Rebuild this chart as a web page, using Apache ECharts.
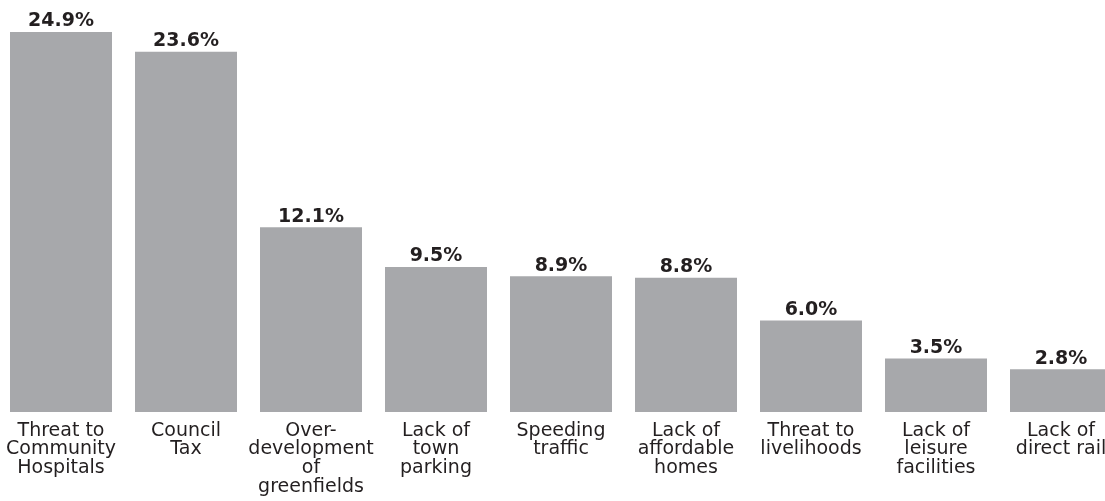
<!DOCTYPE html>
<html>
<head>
<meta charset="utf-8">
<script src="https://cdn.jsdelivr.net/npm/echarts@6/dist/echarts.min.js"></script>
<style>html,body{margin:0;padding:0;background:#fff;}#c{width:1105px;height:501px;}</style>
</head>
<body>
<div id="c"></div>
<script>
const categories = [
  "Threat to\nCommunity\nHospitals",
  "Council\nTax",
  "Over-\ndevelopment\nof\ngreenfields",
  "Lack of\ntown\nparking",
  "Speeding\ntraffic",
  "Lack of\naffordable\nhomes",
  "Threat to\nlivelihoods",
  "Lack of\nleisure\nfacilities",
  "Lack of\ndirect rail"
];
const values = [24.9, 23.6, 12.1, 9.5, 8.9, 8.8, 6.0, 3.5, 2.8];

const chart = echarts.init(document.getElementById('c'), null, {renderer: 'canvas'});
chart.setOption({
  animation: false,
  backgroundColor: '#ffffff',
  grid: { left: -1.5, right: -18.5, top: 30.5, bottom: 89, containLabel: false, outerBoundsMode: 'none' },
  xAxis: {
    type: 'category',
    data: categories,
    axisLine: { show: false },
    axisTick: { show: false },
    axisLabel: {
      interval: 0,
      margin: 9.5,
      color: '#231f20',
      fontFamily: 'DejaVu Sans',
      fontSize: 19,
      lineHeight: 18.6
    }
  },
  yAxis: {
    type: 'value', min: 0, max: 25, show: false,
    splitLine: { show: false }
  },
  series: [{
    type: 'bar',
    data: values,
    barWidth: 102,
    itemStyle: { color: '#a7a8ab' },
    label: {
      show: true,
      position: 'top',
      distance: 1,
      color: '#231f20',
      fontFamily: 'DejaVu Sans',
      fontWeight: 'bold',
      fontSize: 19,
      formatter: p => p.value.toFixed(1) + '%'
    }
  }]
});
</script>
</body>
</html>
